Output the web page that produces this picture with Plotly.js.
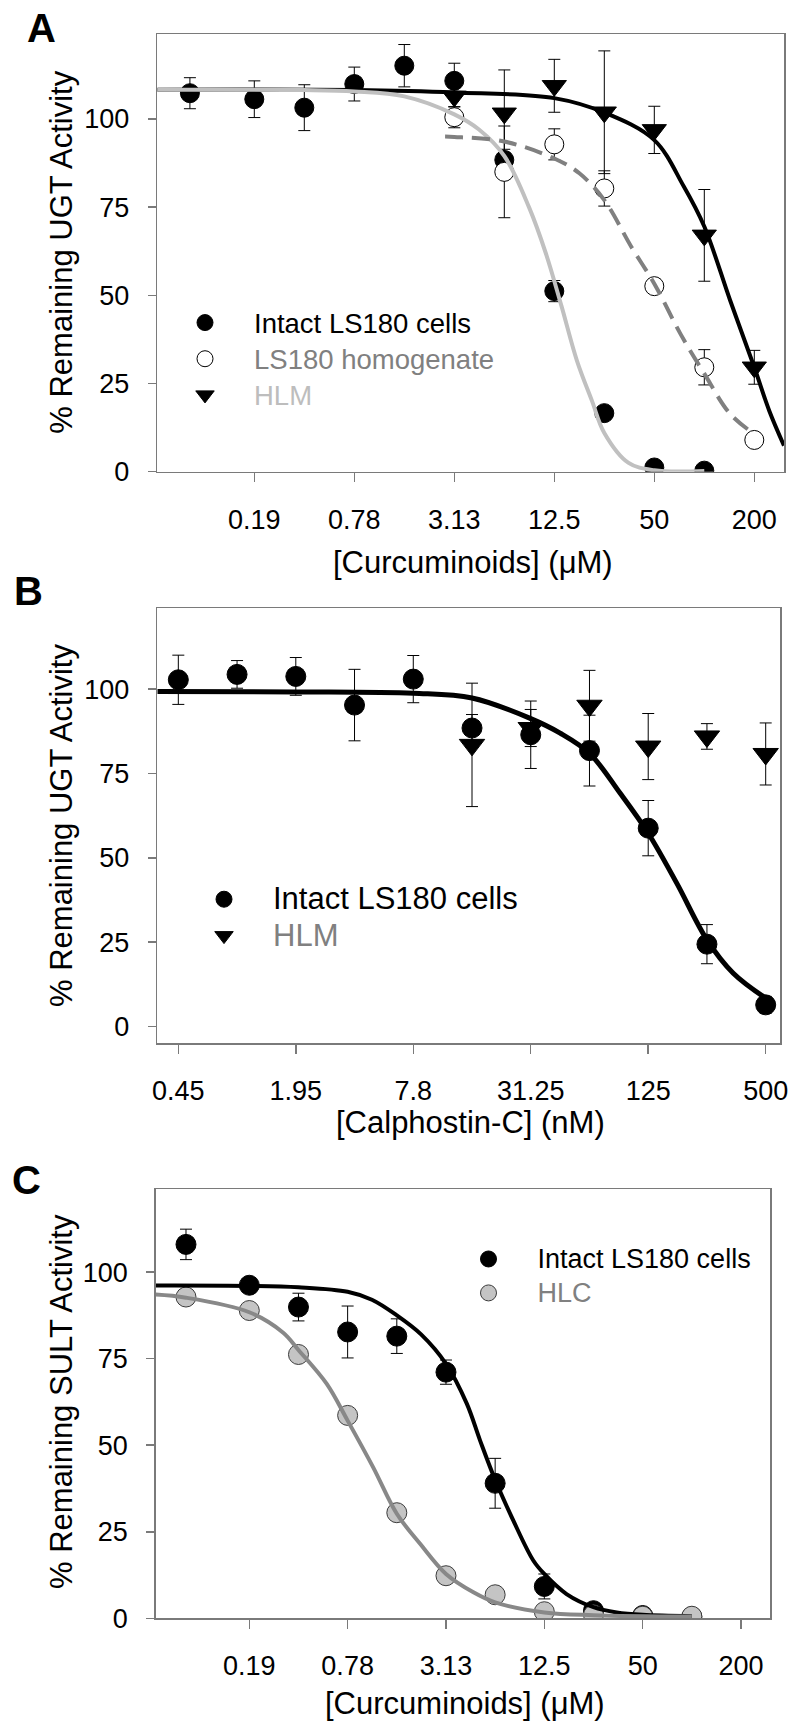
<!DOCTYPE html>
<html>
<head>
<meta charset="utf-8">
<script src="https://cdn.plot.ly/plotly-3.0.1.min.js"></script>
<style>
  html, body { margin: 0; padding: 0; background: #ffffff; }
  #chart { width: 800px; height: 1735px; }
</style>
</head>
<body>
<div id="chart"></div>
<script>
// ---------------- Panel A : UGT activity vs curcuminoids ----------------
const tickValsA = [0.1953125, 0.78125, 3.125, 12.5, 50, 200];
const tickTextA = ["0.19", "0.78", "3.13", "12.5", "50", "200"];

const concA = [0.08, 0.1953125, 0.390625, 0.78125, 1.5625, 3.125, 6.25, 12.5, 25, 50, 100];
const intactA = [107.3, 105.6, 103.2, 109.9, 115.1, 110.8, 88.4, 51.2, 16.6, 1.2, 0.3];
const intactAErr = [4.4, 5.2, 6.5, 4.8, 6.0, 5.0, 3.0, 3.0, 0, 0, 0];

const concHomA = [3.125, 6.25, 12.5, 25, 50, 100, 200];
const homA = [100.5, 85.0, 92.8, 80.3, 52.6, 29.6, 9.0];
const homAErr = [3.0, 13.0, 4.4, 5.0, 2.0, 5.0, 0];

const concHlmA = [3.125, 6.25, 12.5, 25, 50, 100, 200];
const hlmA = [106.4, 101.6, 109.4, 101.9, 96.9, 67.0, 29.6];
const hlmAErr = [3.0, 12.3, 7.5, 17.4, 6.7, 13.0, 4.8];

// fitted curves
const fitHlmAX = [0.0509, 0.78125, 3.125, 12.5, 25, 50, 75, 100, 143, 200, 246, 301.9];
const fitHlmAY = [108.3, 108.2, 107.5, 105.9, 101.8, 94.0, 81.0, 69.5, 48.6, 29.6, 17.3, 7.4];
const fitIntactAX = [0.0509, 0.390625, 0.78125, 1.5625, 3.125, 4.4, 6.25, 8.8, 11.1, 13.8, 17.1, 21.1, 25, 35, 50, 100];
const fitIntactAY = [108.3, 108.2, 107.8, 106.4, 101.3, 97.0, 89.5, 75.0, 62.0, 47.0, 31.5, 20.0, 11.0, 2.5, 0.4, 0.2];
const fitHomAX = [2.75, 3.125, 6.25, 12.5, 17.7, 25, 36.4, 50, 72, 100, 143, 200];
const fitHomAY = [95.0, 94.9, 93.6, 88.8, 84.6, 77.0, 63.7, 53.3, 39.0, 27.8, 16.4, 10.7];

// ---------------- Panel B : UGT activity vs calphostin-C ----------------
const tickValsB = [0.48828125, 1.953125, 7.8125, 31.25, 125, 500];
const tickTextB = ["0.45", "1.95", "7.8", "31.25", "125", "500"];

const concB = [0.48828125, 0.9765625, 1.953125, 3.90625, 7.8125, 15.625, 31.25, 62.5, 125, 250, 500];
const intactB = [102.8, 104.4, 103.8, 95.3, 103.0, 88.5, 86.5, 81.8, 58.8, 24.4, 6.4];
const intactBErr = [7.3, 4.1, 5.6, 10.6, 7.0, 4.0, 10.0, 10.5, 8.2, 5.8, 2.5];

const concHlmB = [15.625, 31.25, 62.5, 125, 250, 500];
const hlmB = [83.5, 88.5, 95.1, 83.0, 86.0, 80.8];
const hlmBErr = [18.3, 5.5, 10.5, 9.8, 3.8, 9.2];

const fitIntactBX = [0.381, 1.953125, 7.8125, 15.625, 31.25, 44.2, 62.5, 89.6, 125, 175, 250, 341, 500];
const fitIntactBY = [99.3, 99.2, 98.8, 97.4, 91.3, 87.0, 81.0, 69.2, 57.3, 42.5, 25.7, 15.8, 8.4];

// ---------------- Panel C : SULT activity vs curcuminoids ----------------
const tickValsC = [0.1953125, 0.78125, 3.125, 12.5, 50, 200];
const tickTextC = ["0.19", "0.78", "3.13", "12.5", "50", "200"];

const concC = [0.08, 0.1953125, 0.390625, 0.78125, 1.5625, 3.125, 6.25, 12.5, 25, 50, 100];
const intactC = [108.0, 96.2, 89.9, 82.7, 81.5, 71.1, 39.0, 9.2, 2.2, 0.8, 0.4];
const intactCErr = [4.4, 1.5, 4.0, 7.5, 5.0, 3.5, 7.2, 3.6, 0, 0, 0];
const hlcC = [92.8, 88.9, 76.2, 58.6, 30.5, 12.3, 6.8, 1.9, 1.0, 0.6, 0.6];

const fitIntactCX = [0.0522, 0.1953125, 0.390625, 0.78125, 1.1, 1.5625, 2.2, 3.125, 4.19, 5.05, 6.25, 8.08, 10.7, 12.5, 17.1, 25, 34.7, 50, 100];
const fitIntactCY = [96.1, 96.0, 95.6, 94.3, 92.0, 87.5, 82.0, 73.5, 62.0, 51.4, 40.0, 28.2, 16.7, 12.8, 7.0, 3.2, 1.7, 1.0, 0.6];
const fitHlcCX = [0.0522, 0.08, 0.1953125, 0.315, 0.390625, 0.582, 0.78125, 1.12, 1.5625, 2.17, 3.125, 4.6, 6.25, 12.5, 25, 100];
const fitHlcCY = [93.5, 92.6, 88.4, 82.5, 77.5, 67.7, 57.1, 43.6, 30.2, 21.5, 12.8, 7.5, 4.6, 1.7, 0.9, 0.5];

const yTicks = [0, 25, 50, 75, 100];

// ---------------- styling helpers ----------------
const FONT = "'Liberation Sans', Arial, Helvetica, sans-serif";
const W = 800, H = 1735;
const px = v => v / W;
const py = v => 1 - v / H;
const AXIS_GRAY = '#7a7a7a';

function errBar(arr) {
  return { type: 'data', array: arr, visible: true, color: '#000000', thickness: 1, width: 6 };
}

function xAxis(dom, range, tv, tt, anchor) {
  return {
    type: 'log', domain: dom, range: range, anchor: anchor,
    tickmode: 'array', tickvals: tv, ticktext: tt,
    ticks: 'outside', ticklen: 9, tickwidth: 1.5, tickcolor: AXIS_GRAY,
    showline: true, linecolor: AXIS_GRAY, linewidth: 1.5, mirror: true,
    showgrid: false, zeroline: false,
    tickfont: { family: FONT, size: 27, color: '#000000' },
    ticklabelstandoff: 14
  };
}
function yAxis(dom, range, anchor) {
  return {
    domain: dom, range: range, anchor: anchor,
    tickmode: 'array', tickvals: yTicks,
    ticks: 'outside', ticklen: 8, tickwidth: 1.5, tickcolor: AXIS_GRAY,
    showline: true, linecolor: AXIS_GRAY, linewidth: 1.5, mirror: true,
    showgrid: false, zeroline: false,
    tickfont: { family: FONT, size: 27, color: '#000000' },
    ticklabelstandoff: 13
  };
}

const blackCircle = (s) => ({ symbol: 'circle', size: s, color: '#000000', line: { color: '#000000', width: 1 } });
const openCircle = (s) => ({ symbol: 'circle', size: s, color: '#ffffff', line: { color: '#000000', width: 1 } });
const blackTri = (s) => ({ symbol: 'triangle-down', size: s, color: '#000000', line: { color: '#000000', width: 1 } });
const grayCircle = (s) => ({ symbol: 'circle', size: s, color: '#c4c4c4', line: { color: '#3a3a3a', width: 1 } });

const span = (txt, color, size) => '<span style="color:' + color + ';font-size:' + size + 'px">' + txt + '</span>';

const traces = [
  // ---- A markers
  { x: concA, y: intactA, error_y: errBar(intactAErr), mode: 'markers', marker: blackCircle(19),
    name: span('Intact LS180 cells', '#000000', 27.5), legend: 'legend', xaxis: 'x', yaxis: 'y' },
  { x: concHomA, y: homA, error_y: errBar(homAErr), mode: 'markers', marker: openCircle(19),
    name: span('LS180 homogenate', '#808080', 27.5), legend: 'legend', xaxis: 'x', yaxis: 'y' },
  { x: concHlmA, y: hlmA, error_y: errBar(hlmAErr), mode: 'markers', marker: blackTri(21),
    name: span('HLM', '#bdbdbd', 27.5), legend: 'legend', xaxis: 'x', yaxis: 'y' },
  // ---- A curves
  { x: fitHlmAX, y: fitHlmAY, mode: 'lines', line: { color: '#000000', width: 4, shape: 'spline', smoothing: 1 },
    showlegend: false, hoverinfo: 'skip', xaxis: 'x', yaxis: 'y' },
  { x: fitIntactAX, y: fitIntactAY, mode: 'lines', line: { color: '#c0c0c0', width: 4, shape: 'spline', smoothing: 1 },
    showlegend: false, hoverinfo: 'skip', xaxis: 'x', yaxis: 'y' },
  { x: fitHomAX, y: fitHomAY, mode: 'lines', line: { color: '#808080', width: 4, dash: '18px,9px', shape: 'spline', smoothing: 1 },
    showlegend: false, hoverinfo: 'skip', xaxis: 'x', yaxis: 'y' },

  // ---- B markers
  { x: concB, y: intactB, error_y: errBar(intactBErr), mode: 'markers', marker: blackCircle(20),
    name: span('Intact LS180 cells', '#000000', 31), legend: 'legend2', xaxis: 'x2', yaxis: 'y2' },
  { x: concHlmB, y: hlmB, error_y: errBar(hlmBErr), mode: 'markers', marker: blackTri(22),
    name: span('HLM', '#808080', 31), legend: 'legend2', xaxis: 'x2', yaxis: 'y2' },
  // ---- B curve
  { x: fitIntactBX, y: fitIntactBY, mode: 'lines', line: { color: '#000000', width: 5, shape: 'spline', smoothing: 1 },
    showlegend: false, hoverinfo: 'skip', xaxis: 'x2', yaxis: 'y2' },

  // ---- C markers
  { x: concC, y: intactC, error_y: errBar(intactCErr), mode: 'markers', marker: blackCircle(20),
    name: span('Intact LS180 cells', '#000000', 27), legend: 'legend3', xaxis: 'x3', yaxis: 'y3' },
  { x: concC, y: hlcC, mode: 'markers', marker: grayCircle(20),
    name: span('HLC', '#808080', 27), legend: 'legend3', xaxis: 'x3', yaxis: 'y3' },
  // ---- C curves
  { x: fitIntactCX, y: fitIntactCY, mode: 'lines', line: { color: '#000000', width: 4, shape: 'spline', smoothing: 1 },
    showlegend: false, hoverinfo: 'skip', xaxis: 'x3', yaxis: 'y3' },
  { x: fitHlcCX, y: fitHlcCY, mode: 'lines', line: { color: '#888888', width: 4, shape: 'spline', smoothing: 1 },
    showlegend: false, hoverinfo: 'skip', xaxis: 'x3', yaxis: 'y3' }
];

const legendBase = {
  xanchor: 'left', yanchor: 'top', bgcolor: 'rgba(0,0,0,0)', borderwidth: 0,
  itemwidth: 88, tracegroupgap: 0, traceorder: 'normal', itemclick: false, itemdoubleclick: false
};

function ann(text, x, y, size, opts) {
  return Object.assign({
    text: text, x: px(x), y: py(y), xref: 'paper', yref: 'paper',
    xanchor: 'center', yanchor: 'middle', showarrow: false,
    font: { family: FONT, size: size, color: '#000000' }
  }, opts || {});
}

const layout = {
  width: W, height: H,
  margin: { l: 0, r: 0, t: 0, b: 0 },
  paper_bgcolor: '#ffffff', plot_bgcolor: '#ffffff',
  font: { family: FONT, color: '#000000' },
  xaxis: xAxis([px(157.3), px(784)], [Math.log10(0.0509), Math.log10(301.9)], tickValsA, tickTextA, 'y'),
  yaxis: yAxis([py(471.7), py(34.3)], [0, 124], 'x'),
  xaxis2: xAxis([px(157.3), px(780)], [Math.log10(0.381), Math.log10(592)], tickValsB, tickTextB, 'y2'),
  yaxis2: yAxis([py(1043.3), py(608.3)], [-5, 124], 'x2'),
  xaxis3: xAxis([px(155.7), px(770)], [Math.log10(0.0522), Math.log10(301)], tickValsC, tickTextC, 'y3'),
  yaxis3: yAxis([py(1618.3), py(1189)], [0, 124], 'x3'),
  legend: Object.assign({}, legendBase, { x: px(156), y: py(299.5), font: { family: FONT, size: 25.5, color: '#000000' } }),
  legend2: Object.assign({}, legendBase, { x: px(175), y: py(876), font: { family: FONT, size: 25.7, color: '#000000' } }),
  legend3: Object.assign({}, legendBase, { x: px(439.5), y: py(1237), font: { family: FONT, size: 23.8, color: '#000000' } }),
  annotations: [
    ann('<b>A</b>', 41, 28, 40),
    ann('<b>B</b>', 29, 591, 40),
    ann('<b>C</b>', 26, 1180, 40),
    ann('% Remaining UGT Activity', 62, 252.7, 31, { textangle: -90 }),
    ann('% Remaining UGT Activity', 61, 826, 31, { textangle: -90 }),
    ann('% Remaining SULT Activity', 61, 1402, 31, { textangle: -90 }),
    ann('[Curcuminoids] (\u03bcM)', 473, 562, 31),
    ann('[Calphostin-C] (nM)', 470, 1122, 31),
    ann('[Curcuminoids] (\u03bcM)', 465, 1703, 31)
  ],
  showlegend: true
};

Plotly.newPlot('chart', traces, layout, { staticPlot: true, displayModeBar: false });
</script>
</body>
</html>
